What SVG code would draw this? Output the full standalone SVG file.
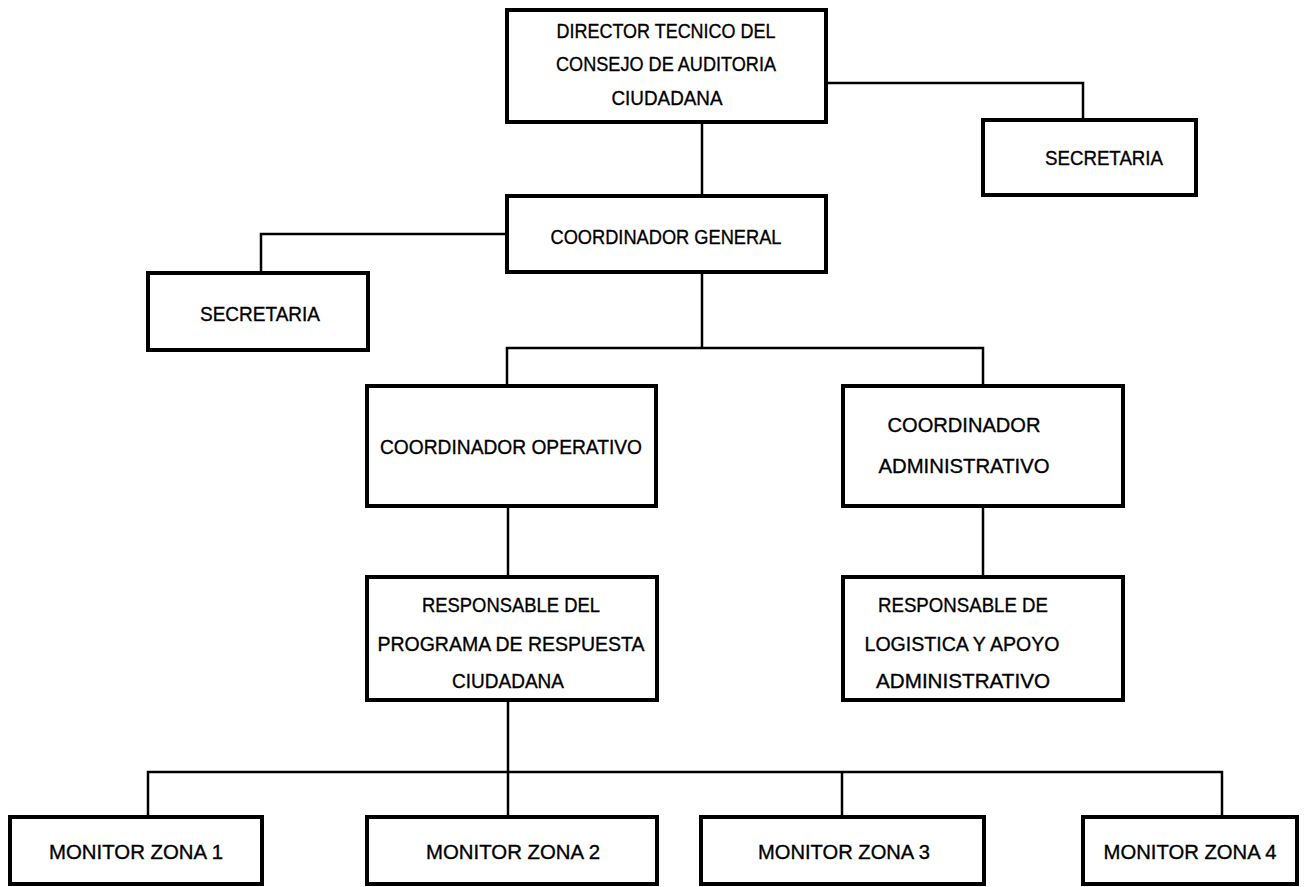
<svg xmlns="http://www.w3.org/2000/svg" width="1307" height="887" viewBox="0 0 1307 887">
<style>
.box{fill:#fff;stroke:#000;stroke-width:4}
.ln{fill:none;stroke:#000;stroke-width:2.5}
text{font-family:"Liberation Sans",Arial,sans-serif;font-size:21px;fill:#000;stroke:#000;stroke-width:0.35;text-anchor:middle}
</style>
<rect width="1307" height="887" fill="#fff"/>
<g id="connectors">
<path class="ln" d="M826 83H1083V120"/>
<path class="ln" d="M702 122V196"/>
<path class="ln" d="M507 234H261V273"/>
<path class="ln" d="M702 272V348"/>
<path class="ln" d="M507 386V348H983V386"/>
<path class="ln" d="M508 506V577"/>
<path class="ln" d="M983 506V577"/>
<path class="ln" d="M508 700V772"/>
<path class="ln" d="M148 817V772H1222V817"/>
<path class="ln" d="M508 772V817"/>
<path class="ln" d="M842 772V817"/>
</g>
<g id="director">
<rect class="box" x="507" y="10" width="319" height="112"/>
<text x="666" y="38" textLength="219" lengthAdjust="spacingAndGlyphs">DIRECTOR TECNICO DEL</text>
<text x="666" y="71" textLength="220" lengthAdjust="spacingAndGlyphs">CONSEJO DE AUDITORIA</text>
<text x="667" y="105" textLength="111" lengthAdjust="spacingAndGlyphs">CIUDADANA</text>
</g>
<g id="secretaria-right">
<rect class="box" x="983" y="120" width="213" height="75"/>
<text x="1104" y="165" textLength="118" lengthAdjust="spacingAndGlyphs">SECRETARIA</text>
</g>
<g id="coordinador-general">
<rect class="box" x="507" y="196" width="319" height="76"/>
<text x="666" y="244" textLength="231" lengthAdjust="spacingAndGlyphs">COORDINADOR GENERAL</text>
</g>
<g id="secretaria-left">
<rect class="box" x="148" y="273" width="220" height="77"/>
<text x="260" y="321" textLength="120" lengthAdjust="spacingAndGlyphs">SECRETARIA</text>
</g>
<g id="coordinador-operativo">
<rect class="box" x="367" y="386" width="289" height="120"/>
<text x="511" y="454" textLength="262" lengthAdjust="spacingAndGlyphs">COORDINADOR OPERATIVO</text>
</g>
<g id="coordinador-administrativo">
<rect class="box" x="843" y="386" width="280" height="120"/>
<text x="964" y="432" textLength="153" lengthAdjust="spacingAndGlyphs">COORDINADOR</text>
<text x="964" y="473" textLength="171" lengthAdjust="spacingAndGlyphs">ADMINISTRATIVO</text>
</g>
<g id="responsable-programa">
<rect class="box" x="367" y="577" width="290" height="123"/>
<text x="511" y="612" textLength="178" lengthAdjust="spacingAndGlyphs">RESPONSABLE DEL</text>
<text x="511" y="651" textLength="267" lengthAdjust="spacingAndGlyphs">PROGRAMA DE RESPUESTA</text>
<text x="508" y="688" textLength="112" lengthAdjust="spacingAndGlyphs">CIUDADANA</text>
</g>
<g id="responsable-logistica">
<rect class="box" x="843" y="577" width="280" height="123"/>
<text x="963" y="612" textLength="170" lengthAdjust="spacingAndGlyphs">RESPONSABLE DE</text>
<text x="962" y="651" textLength="195" lengthAdjust="spacingAndGlyphs">LOGISTICA Y APOYO</text>
<text x="963" y="688" textLength="174" lengthAdjust="spacingAndGlyphs">ADMINISTRATIVO</text>
</g>
<g id="monitor-1">
<rect class="box" x="10" y="817" width="252" height="67"/>
<text x="136" y="859" textLength="174" lengthAdjust="spacingAndGlyphs">MONITOR ZONA 1</text>
</g>
<g id="monitor-2">
<rect class="box" x="367" y="817" width="290" height="67"/>
<text x="513" y="859" textLength="174" lengthAdjust="spacingAndGlyphs">MONITOR ZONA 2</text>
</g>
<g id="monitor-3">
<rect class="box" x="701" y="817" width="283" height="67"/>
<text x="844" y="859" textLength="172" lengthAdjust="spacingAndGlyphs">MONITOR ZONA 3</text>
</g>
<g id="monitor-4">
<rect class="box" x="1083" y="817" width="214" height="67"/>
<text x="1190" y="859" textLength="173" lengthAdjust="spacingAndGlyphs">MONITOR ZONA 4</text>
</g>
</svg>
